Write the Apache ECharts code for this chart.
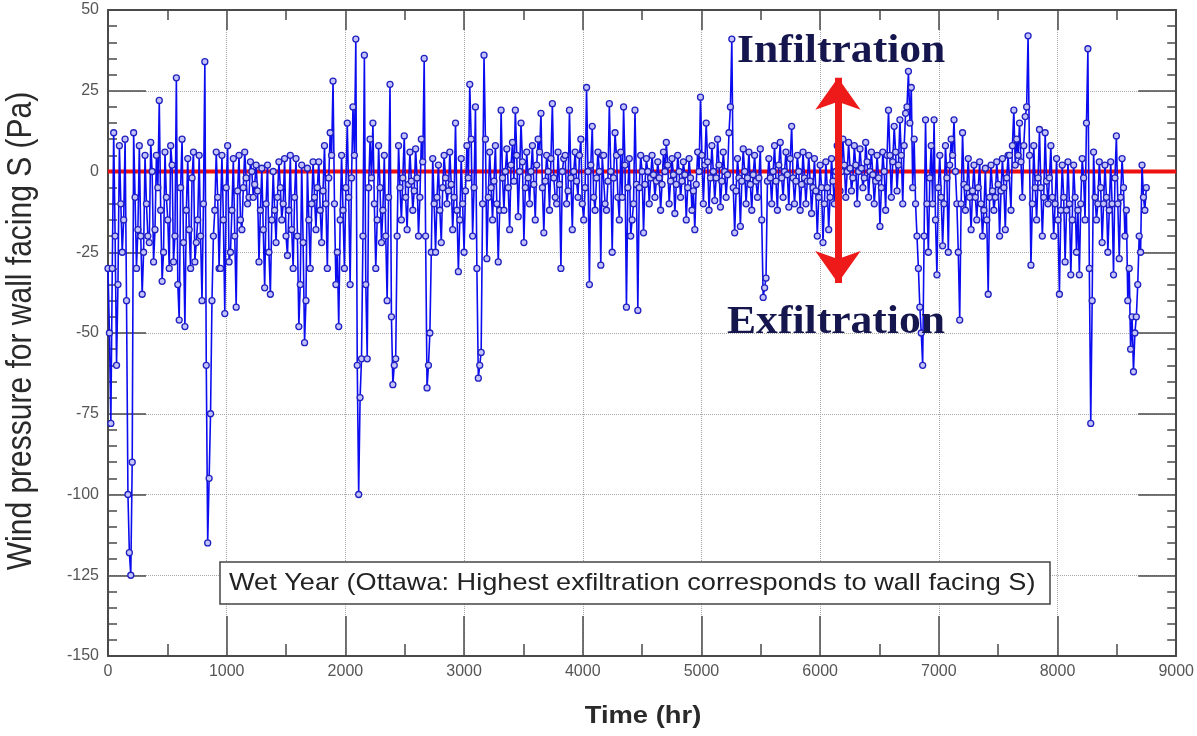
<!DOCTYPE html>
<html>
<head>
<meta charset="utf-8">
<script src="https://cdn.jsdelivr.net/npm/echarts@6/dist/echarts.min.js"></script>
<style>
html,body{margin:0;padding:0;background:#fff;}
#chart{width:1197px;height:736px;}
</style>
</head>
<body>
<div id="chart"></div>
<script>
// Wind pressure (Pa): one reading at each whole day (hour = i*24)
// and one reading half a day later (hour = i*24 + 12).
const STEP = 24;
const pressureDay = [
 -30,-78,12,-60,8,-25,10,-100,-125,12,-30,8,-38,5,-20,9,-28,5,22,-34,
 6,-15,8,-28,29,-46,10,-48,4,-30,6,-22,5,-40,34,-115,-75,-20,6,-30,
 5,-44,8,-25,4,-42,5,-18,6,-10,3,-8,2,-28,1,-36,2,-38,0,-22,
 3,-15,4,-26,5,-30,4,-48,2,-53,1,-30,3,-18,3,-22,8,-30,12,28,
 -35,-48,5,-30,15,-35,20,41,-100,-58,36,-58,10,15,-30,8,-22,5,-40,27,
 -66,-58,8,-15,11,-18,6,-12,7,-20,10,35,-67,-50,4,-25,2,-22,5,-10,
 6,-18,15,-31,4,-25,8,27,-20,20,-64,-56,36,-27,6,-15,8,-28,19,-12,
 7,-18,9,19,-14,15,-22,6,-10,8,-15,10,18,-19,5,-12,21,-8,6,-30,
 4,-10,19,-18,6,-8,10,-15,26,-35,14,-12,6,-29,5,-12,21,-25,12,-8,
 6,20,-42,4,-15,19,-43,5,-19,4,-10,5,-8,3,-12,6,9,-10,4,-13,
 5,-8,3,-15,4,-12,-18,6,23,-10,15,-12,8,-9,10,-11,6,-8,12,41,
 -19,4,-17,7,-10,6,-12,5,-8,7,-39,-33,4,-10,8,-12,9,-8,6,-11,
 14,-10,5,-12,6,-10,5,-13,4,-20,2,-22,3,-18,4,-10,8,-6,10,-8,
 9,-6,8,-10,7,-5,9,-8,6,-10,5,-17,6,-12,19,-8,14,-6,16,-10,
 18,31,26,10,-20,-42,-60,16,-25,8,16,-32,5,-23,8,-25,10,16,-10,-46,
 12,-12,4,-18,2,-15,3,-20,1,-38,2,-12,3,-20,4,-18,5,-12,19,10,
 15,-8,17,42,-29,8,-15,13,-20,12,-10,8,-20,4,-38,2,-28,3,-32,2,
 -25,-32,4,-15,38,-78,6,-15,3,-22,2,-25,3,-32,11,-27,4,-20,-40,-55,
 -62,-45,-20,2,-12
];
const pressureHalf = [
 -50,-30,-20,-35,-10,-15,-40,-118,-90,-8,-18,-20,-25,
 -10,-22,0,-18,-5,-12,-25,-8,-30,2,-20,-35,-5,-22,-12,-18,-2,-28,-15,-20,-10,-60,-95,-40,-12,-8,-30,-15,-5,-28,-12,-20,-6,-15,
 -5,-2,-8,0,-4,-6,-12,-18,-10,-25,-15,-12,-8,-5,-10,-20,-12,-18,-8,
 -20,-35,-22,-40,-15,-10,-8,-5,-12,-6,-10,-2,5,
 -10,-25,-15,-12,-5,-8,-2,5,-60,-70,-20,-35,-5,-2,-10,-15,-5,-12,-20,-8,-45,-60,-20,
 -5,-2,-8,-4,-3,-6,-2,-8,3,-20,-60,-25,-10,-8,-12,-5,-2,-6,-4,-8,-12,-15,-10,-6,-2,10,-5,-30,-60,-10,10,-8,-5,-3,-10,-12,
 -2,0,-5,2,-3,5,0,3,-5,-2,0,-4,2,6,-5,-3,0,4,-2,-10,-4,0,5,-6,-2,0,-3,5,-10,-5,0,2,-8,-2,0,5,-10,-3,0,-2,5,-15,-8,2,-5,-20,-10,-4,-5,0,
 -4,0,-2,-1,-3,-2,-4,0,2,-3,-1,-4,0,-3,-1,-5,-2,-6,-4,0,5,2,3,-2,0,-2,2,-3,0,-1,20,-5,-6,-2,-3,0,-2,-4,-1,-3,-2,-15,-36,-3,-2,0,-3,2,-2,0,-1,4,-2,-3,0,-4,-2,-3,
 -3,-5,-6,-8,-5,-10,-5,-8,-3,0,2,0,2,0,1,-2,2,0,1,-2,3,0,-1,-3,-2,-5,0,5,
 5,3,6,2,5,8,20,15,-5,-10,-30,-50,-20,-10,-2,-10,-15,-5,-8,-10,-2,2,5,0,-25,-10,
 -4,-5,-8,-6,-8,-5,-10,-12,-15,-8,-6,-8,-4,-6,-5,-2,5,8,2,5,3,8,20,
 5,-10,-5,-2,-5,-8,-3,-2,-8,-10,-15,-12,-8,-12,-10,-15,-8,-12,-10,-2,15,-30,-40,-8,-10,-5,-10,-8,-12,-10,-2,-10,-8,-5,-12,-30,-45,-50,-35,-25,-8,-5
];
const xTicks = ['0','1000','2000','3000','4000','5000','6000','7000','8000','9000'];
const yTicks = ['-150','-125','-100','-75','-50','-25','0','25','50'];
const refLine = [[0,0],[9000,0]];
const arrowEnds = [[6150, 29], [6150, -34.5]];
const xName = 'Time (hr)';
const yName = 'Wind pressure for wall facing S (Pa)';
const boxText = 'Wet Year (Ottawa: Highest exfiltration corresponds to wall facing S)';

const seriesData = [];
pressureDay.forEach((v, i) => {
  seriesData.push([i * STEP, v]);
  if (i < pressureHalf.length) seriesData.push([i * STEP + STEP / 2, pressureHalf[i]]);
});

const chart = echarts.init(document.getElementById('chart'), null, {renderer: 'canvas'});
const frame = '#4a4a4a';
const sans = '"Liberation Sans", Arial, sans-serif';
const tickLabel = {color: '#555', fontSize: 16, fontFamily: sans};
const grid = {color: '#a8a8a8', type: 'dotted', width: 1};
function axisBase(extra) {
  return Object.assign({
    axisLine: {show: true, onZero: false, lineStyle: {color: frame, width: 2}},
  }, extra);
}
const option = {
  animation: false,
  backgroundColor: '#fff',
  grid: {left: 108, right: 20, top: 10, bottom: 80, containLabel: false},
  xAxis: [axisBase({
    type: 'value', min: 0, max: 9000, interval: 1000, position: 'bottom',
    axisTick: {show: true, inside: true, length: 40, lineStyle: {color: frame, width: 1.5}},
    minorTick: {show: true, splitNumber: 2, length: 12, lineStyle: {color: frame, width: 1.5}},
    axisLabel: Object.assign({margin: 8, formatter: v => xTicks[Math.round(v/1000)] ?? ''}, tickLabel),
    splitLine: {show: true, lineStyle: grid}
  }), axisBase({
    type: 'value', min: 0, max: 9000, interval: 1000, position: 'top',
    axisTick: {show: true, inside: true, length: 20, lineStyle: {color: frame, width: 1.5}},
    minorTick: {show: true, splitNumber: 2, length: 10, lineStyle: {color: frame, width: 1.5}},
    axisLabel: {show: false}, splitLine: {show: false}
  })],
  yAxis: [axisBase({
    type: 'value', min: -150, max: 50, interval: 25, position: 'left',
    axisTick: {show: true, inside: true, length: 38, lineStyle: {color: frame, width: 1.5}},
    minorTick: {show: true, splitNumber: 5, length: 9, lineStyle: {color: frame, width: 1.5}},
    axisLabel: Object.assign({margin: 9, formatter: v => yTicks[Math.round((v + 150)/25)] ?? ''}, tickLabel),
    splitLine: {show: true, lineStyle: grid}
  }), axisBase({
    type: 'value', min: -150, max: 50, interval: 25, position: 'right',
    axisTick: {show: true, inside: true, length: 38, lineStyle: {color: frame, width: 1.5}},
    minorTick: {show: true, splitNumber: 5, length: 9, lineStyle: {color: frame, width: 1.5}},
    axisLabel: {show: false}, splitLine: {show: false}
  })],
  series: [{
    type: 'line', data: refLine, z: 2, symbol: 'none',
    lineStyle: {color: '#ee1111', width: 4}, silent: true
  }, {
    type: 'line', data: seriesData, z: 3,
    symbol: 'circle', symbolSize: 6, showAllSymbol: true,
    lineStyle: {color: '#0c0cf0', width: 1.6},
    itemStyle: {color: '#c4c4fa', borderColor: '#2020c0', borderWidth: 1.3},
    markLine: {
      silent: true, symbol: ['arrow', 'arrow'], symbolSize: [34, 32],
      label: {show: false},
      lineStyle: {color: '#ee1a1a', width: 7, type: 'solid'},
      data: [[{coord: arrowEnds[0]}, {coord: arrowEnds[1]}]]
    }
  }],
  graphic: [
    {type: 'text', x: 737, y: 52, scaleX: 1.09, z: 10,
     style: {text: 'Infiltration', font: 'bold 40px "Liberation Serif", "Times New Roman", serif', fill: '#16164e', align: 'left', verticalAlign: 'middle'}},
    {type: 'text', x: 727, y: 323, scaleX: 1.09, z: 10,
     style: {text: 'Exfiltration', font: 'bold 40px "Liberation Serif", "Times New Roman", serif', fill: '#16164e', align: 'left', verticalAlign: 'middle'}},
    {type: 'text', x: 643, y: 716, scaleX: 1.14, z: 10,
     style: {text: xName, font: 'bold 24px ' + sans, fill: '#2a2a2a', align: 'center', verticalAlign: 'middle'}},
    {type: 'text', x: 22, y: 331, rotation: Math.PI / 2, scaleY: 1.14, z: 10,
     style: {text: yName, font: '30px ' + sans, fill: '#2a2a2a', align: 'center', verticalAlign: 'middle'}},
    {type: 'rect', z: 10, shape: {x: 220, y: 562, width: 830, height: 42},
     style: {fill: '#fff', stroke: '#444', lineWidth: 1.5}},
    {type: 'text', x: 229, y: 583, scaleX: 1.13, z: 11,
     style: {text: boxText, font: '24px ' + sans, fill: '#222', align: 'left', verticalAlign: 'middle'}}
  ]
};
chart.setOption(option);
</script>
</body>
</html>
